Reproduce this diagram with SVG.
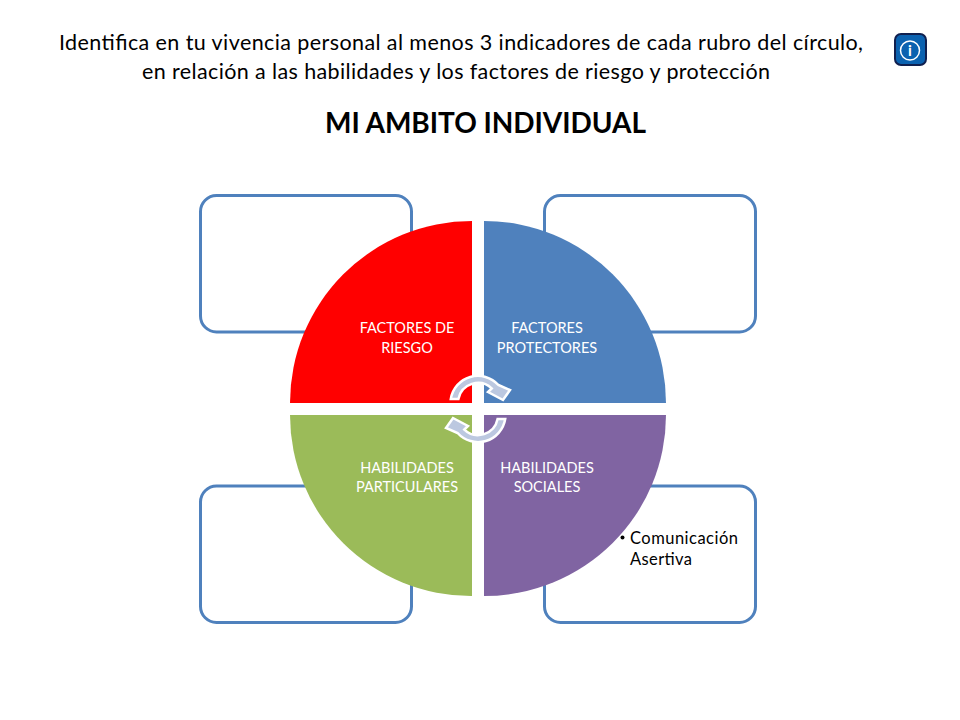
<svg xmlns="http://www.w3.org/2000/svg" width="960" height="720" viewBox="0 0 960 720">
<style>
text{font-family:"Lato","Open Sans","Liberation Sans",sans-serif}
.t{font-size:21.500px;fill:#000}
.l{font-size:14.500px;fill:#fff;text-anchor:middle}
.b{fill:#fff;stroke:#4f81bd;stroke-width:3}
.a{fill:#bcc8e0;stroke:#fff;stroke-width:2.500;stroke-linejoin:miter}
</style>
<rect width="960" height="720" fill="#fff"/>
<g id="titulo">
<text class="t" x="59" y="50" textLength="804">Identifica en tu vivencia personal al menos 3 indicadores de cada rubro del círculo,</text>
<text class="t" x="142" y="79" textLength="628">en relación a las habilidades y los factores de riesgo y protección</text>
<text x="325" y="133" font-size="28" font-weight="700" fill="#000" textLength="321">MI AMBITO INDIVIDUAL</text>
</g>
<g id="info">
<rect x="895" y="34" width="31" height="31" rx="6" fill="#0b62b0" stroke="#10204f" stroke-width="2"/>
<circle cx="910" cy="50.500" r="9.500" fill="none" stroke="#fff" stroke-width="1.500"/>
<text x="910" y="56" font-size="15" font-weight="700" fill="#fff" text-anchor="middle">i</text>
</g>
<g id="caja-riesgo"><rect class="b" x="200.500" y="195.500" width="211" height="136.500" rx="16"/></g>
<g id="caja-protectores"><rect class="b" x="544.500" y="195.500" width="211" height="136.500" rx="16"/></g>
<g id="caja-particulares"><rect class="b" x="200.500" y="486" width="211" height="136.500" rx="16"/></g>
<g id="caja-sociales"><rect class="b" x="544.500" y="486" width="211" height="136.500" rx="16"/>
<circle cx="622.500" cy="537.500" r="2" fill="#000"/>
<text x="630" y="544" font-size="16.500" fill="#000" textLength="108">Comunicación</text>
<text x="630" y="565" font-size="16.500" fill="#000" textLength="62">Asertiva</text>
</g>
<g id="factores-riesgo"><path d="M472,403H290A182,182 0 0 1 472,221Z" fill="#ff0000"/>
<text class="l" x="407" y="333">FACTORES DE</text><text class="l" x="407" y="353">RIESGO</text></g>
<g id="factores-protectores"><path d="M484,403V221A182,182 0 0 1 666,403Z" fill="#4f81bd"/>
<text class="l" x="547" y="333">FACTORES</text><text class="l" x="547" y="353">PROTECTORES</text></g>
<g id="habilidades-particulares"><path d="M472,415V596A181,181 0 0 1 290,415Z" fill="#9bbb59"/>
<text class="l" x="407" y="473">HABILIDADES</text><text class="l" x="407" y="492">PARTICULARES</text></g>
<g id="habilidades-sociales"><path d="M484,415H666A182,181 0 0 1 484,596Z" fill="#8064a2"/>
<text class="l" x="547" y="473">HABILIDADES</text><text class="l" x="547" y="492">SOCIALES</text></g>
<g id="conectores">
<path id="f1" class="a" d="M450.800,399A27.500,27.500 0 0 1 498.400,385L510,390L503,400L488,392L491.700,388.400A20,20 0 0 0 458.400,399Z"/>
<path id="f2" class="a" d="M450.800,399A27.500,27.500 0 0 1 498.400,385L510,390L503,400L488,392L491.700,388.400A20,20 0 0 0 458.400,399Z" transform="rotate(180 478 409)"/>
</g>
</svg>
